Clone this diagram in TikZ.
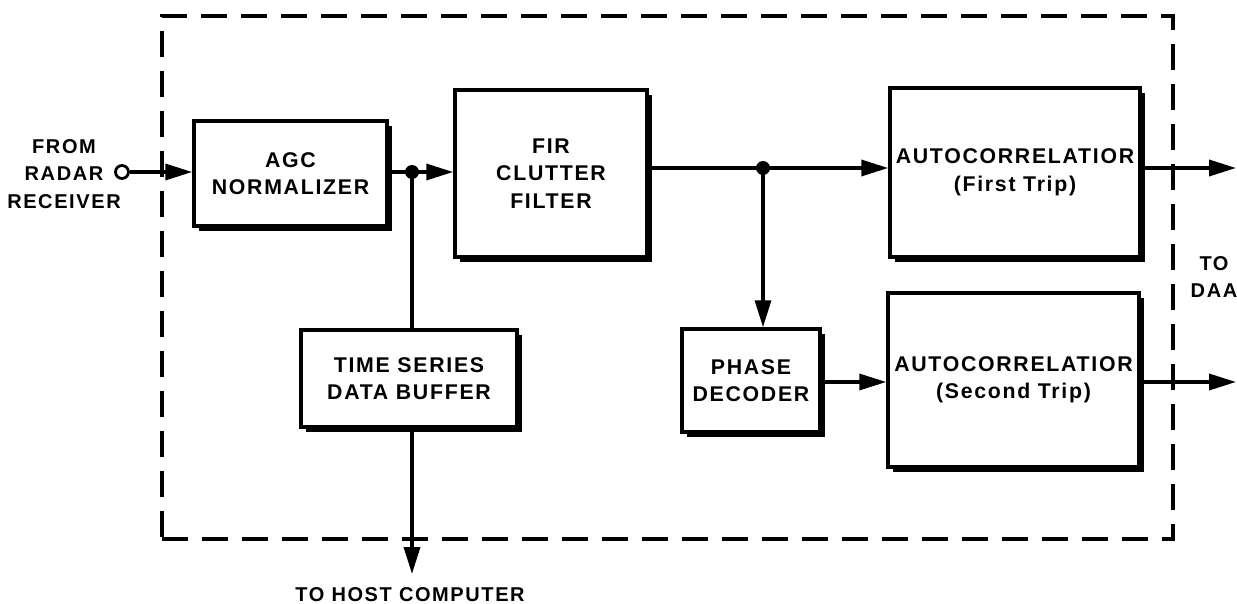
\documentclass[tikz,border=0pt]{standalone}
\usepackage{fontspec}
\setmainfont{Liberation Sans}
\newfontfamily\mydiafont[LetterSpace=8]{Liberation Sans}
\newcommand\mylblfont{\fontsize{21.3}{27.5}\selectfont\mydiafont\bfseries}
\newcommand\myoutfont{\fontsize{20}{27.5}\selectfont\mydiafont\bfseries}
\usetikzlibrary{arrows.meta,shadows}
\begin{document}
\begin{tikzpicture}[x=1pt,y=-1pt,
  box/.style={draw, line width=3.5pt, fill=white, inner sep=0pt, align=center,
    font=\mylblfont,
    drop shadow={shadow xshift=5pt, shadow yshift=-5pt, fill=black, opacity=1}},
  wire/.style={line width=3.5pt},
  arr/.style={wire, -{Triangle[length=27pt,width=16pt]}},
  dot/.style={circle, fill=black, inner sep=0pt, minimum size=14pt},
  lbl/.style={font=\myoutfont, align=center, inner sep=0pt},
  frame/.style={draw, line width=3.5pt, dash pattern=on 26pt off 14pt, inner sep=0pt}
]
\fill[white] (0,0) rectangle (1237,604);
\useasboundingbox (0,0) rectangle (1237,604);

\node[frame, minimum width=1011pt, minimum height=523pt] (frm) at (667.5,277.5) {};

\node[box, minimum width=193pt, minimum height=105pt] (agc) at (290.5,173.5) {AGC\\NORMALIZER};
\node[box, minimum width=192pt, minimum height=167pt] (fir) at (551,173.5) {FIR\\CLUTTER\\FILTER};
\node[box, minimum width=250pt, minimum height=169pt] (ac1) at (1015,172.5) {AUTOCORRELATIOR\\(First Trip)};
\node[box, minimum width=251pt, minimum height=174pt] (ac2) at (1013.5,380) {AUTOCORRELATIOR\\(Second Trip)};
\node[box, minimum width=216pt, minimum height=97pt] (tsdb) at (409,378.5) {TIME SERIES\\DATA BUFFER};
\node[box, minimum width=138pt, minimum height=103pt] (pd) at (751,380.5) {PHASE\\DECODER};

\node[draw, circle, line width=2.8pt, minimum size=13pt, inner sep=0pt, fill=white] (src) at (122,172) {};

\coordinate (j1) at (412,172);
\coordinate (j2) at (763,168);
\coordinate (p2) at (850,382);
\coordinate (host) at (412,574);
\coordinate (daa1) at (1236,168);
\coordinate (daa2) at (1236,382);

\draw[arr] (src.east) -- (agc.west |- src);
\draw[wire] (agc.east |- j1) -- (j1);
\draw[arr] (j1) -- (fir.west |- j1);
\draw[wire] (j1) -- (tsdb.north -| j1);
\draw[arr] (tsdb.south -| j1) -- (host);
\draw[wire] (fir.east |- j2) -- (j2);
\draw[arr] (j2) -- (ac1.west |- j2);
\draw[arr] (j2) -- (pd.north -| j2);
\draw[arr] (pd.east |- p2) -- (ac2.west |- p2);
\draw[arr] (ac1.east |- daa1) -- (daa1);
\draw[arr] (ac2.east |- daa2) -- (daa2);

\node[dot] (d1) at (j1) {};
\node[dot] (d2) at (j2) {};

\node[lbl] (from) at (64,174) {FROM\\RADAR\\RECEIVER};
\node[lbl] (tohost) at (410,595) {TO HOST COMPUTER};
\node[lbl] (todaa) at (1214,277) {TO\\DAA};
\end{tikzpicture}
\end{document}
